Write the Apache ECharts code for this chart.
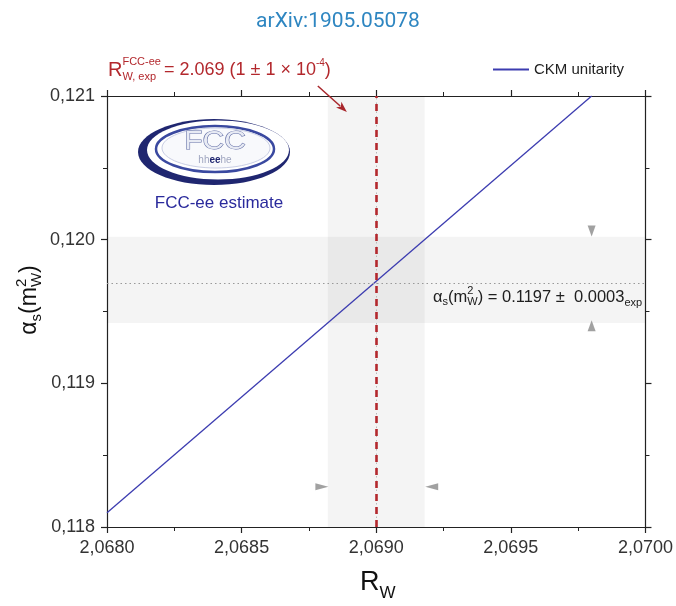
<!DOCTYPE html>
<html><head><meta charset="utf-8">
<script src="https://cdn.jsdelivr.net/npm/echarts@6/dist/echarts.min.js"></script>
<style>html,body{margin:0;padding:0;background:#fff}#c{width:676px;height:606px}</style>
</head><body><div id="c"></div>
<script>
// ---- data ----
const xTickValues = [2.0680, 2.0685, 2.0690, 2.0695, 2.0700];
const yTickValues = [0.118, 0.119, 0.120, 0.121];
const ckmRw = [2.0680, 2.0698];
const ckmAlphaS = [0.11810, 0.12100];
const rwCentral = 2.069;
const rwBand = [2.06882, 2.06918];
const asCentral = 0.1197;
const asBand = [0.11942, 0.12002];
const vTriangles = [[2.0698, 0.12006, 180], [2.0698, 0.11940, 0]];
const hTriangles = [[2.068798, 0.11828, -90], [2.069206, 0.11828, 90]];
const arrowFrom = [2.068783, 0.12107];
const arrowTo = [2.068891, 0.120889];

const FONT = '"Liberation Sans", Arial, sans-serif';
const ctx = document.createElement('canvas').getContext('2d');
function tw(t, s, bold){ ctx.font = (bold?'bold ':'') + s + 'px ' + FONT; return ctx.measureText(t).width; }
function T(x, y, t, s, color){
  return {type:'text', x:x, y:y, silent:true, style:{text:t, fontSize:s, fontFamily:FONT, fill:color, verticalAlign:'middle', align:'left'}};
}
function runs(x, yc, pieces, color){
  const out = []; let cx = x;
  for (const p of pieces){
    if (p.sup !== undefined || p.sub !== undefined){
      let ww = 0;
      if (p.sup){ out.push(T(cx, yc + p.supDy, p.sup, p.s, color)); ww = Math.max(ww, tw(p.sup, p.s)); }
      if (p.sub){ out.push(T(cx, yc + p.subDy, p.sub, p.s, color)); ww = Math.max(ww, tw(p.sub, p.s)); }
      cx += ww + (p.after||0);
    } else {
      out.push(T(cx + (p.pre||0), yc + (p.dy||0), p.t, p.s, color));
      cx += tw(p.t, p.s) + (p.pre||0);
    }
  }
  return {els: out, width: cx - x};
}
function fmtX(v){ return v.toFixed(4).replace('.', ','); }
function fmtY(v){ return v.toFixed(3).replace('.', ','); }

const axisLineStyle = {color:'#222', width:1.2};
function xAx(pos, labels){
  return {type:'value', min:2.068, max:2.070, interval:0.0005, position:pos,
    axisLine:{show:true, onZero:false, lineStyle:axisLineStyle},
    axisTick:{show:true, inside:false, length:6, lineStyle:axisLineStyle},
    minorTick:{show:true, splitNumber:2, length:4, lineStyle:{color:'#222', width:1}},
    splitLine:{show:false}, minorSplitLine:{show:false},
    axisLabel:{show:labels, formatter:fmtX, fontSize:18, color:'#333', fontFamily:FONT, margin:12}};
}
function yAx(pos, labels){
  return {type:'value', min:0.118, max:0.121, interval:0.001, position:pos,
    axisLine:{show:true, onZero:false, lineStyle:axisLineStyle},
    axisTick:{show:true, inside:false, length:6, lineStyle:axisLineStyle},
    minorTick:{show:true, splitNumber:2, length:4, lineStyle:{color:'#222', width:1}},
    splitLine:{show:false}, minorSplitLine:{show:false},
    axisLabel:{show:labels, formatter:fmtY, fontSize:18, color:'#333', fontFamily:FONT, margin:12}};
}

const chart = echarts.init(document.getElementById('c'), null, {renderer:'canvas'});

const graphics = [];
const red = '#b3282d';
const r1 = runs(108, 70, [
  {t:'R', s:20},
  {sup:'FCC-ee', sub:'W, exp', s:11, supDy:-8, subDy:7, after:3},
  {t:'= 2.069 (1 \u00b1 1 \u00d7 10', s:18},
  {sup:'-4', s:10, supDy:-7},
  {t:')', s:18}
], red);
graphics.push(...r1.els);
const r2 = runs(433, 297, [
  {t:'\u03b1', s:16.5},
  {sub:'s', s:11, subDy:5},
  {t:'(m', s:16.5},
  {sup:'2', sub:'W', s:11, supDy:-6, subDy:5},
  {t:') = 0.1197 \u00b1  0.0003', s:16.5},
  {sub:'exp', s:11, subDy:6}
], '#222');
graphics.push(...r2.els);
const r3 = runs(360, 583, [{t:'R', s:27}, {sub:'W', s:17, subDy:10}], '#111');
graphics.push(...r3.els);
const r4 = runs(0, 0, [
  {t:'\u03b1', s:23},
  {sub:'s', s:15, subDy:7},
  {t:'(m', s:23},
  {sup:'2', sub:'W', s:15, supDy:-8, subDy:7},
  {t:')', s:23}
], '#111');
graphics.push({type:'group', x:30, y:300, rotation:Math.PI/2, silent:true,
  children: r4.els.map(e => { e.x -= r4.width/2; return e; })});
// logo
graphics.push({type:'group', silent:true, children:[
  {type:'ellipse', shape:{cx:214, cy:152, rx:76, ry:33}, style:{fill:'#1f2670'}},
  {type:'ellipse', shape:{cx:218, cy:150, rx:71, ry:29.5}, style:{fill:'#ffffff'}},
  {type:'ellipse', shape:{cx:215, cy:149, rx:59, ry:23}, style:{fill:'none', stroke:'#3a49a0', lineWidth:2.5}},
  {type:'ellipse', shape:{cx:216, cy:148, rx:54, ry:20}, style:{fill:'#f8f9fc', stroke:'#c9cee4', lineWidth:1}},
  {type:'text', x:215, y:142, scaleX:1.15, style:{text:'FCC', fontSize:26, fontFamily:FONT, fill:'#e8ebf4', stroke:'#5f6ba4', lineWidth:1, align:'center', verticalAlign:'middle'}},
  {type:'text', x:215, y:160, style:{text:'{g|hh}{b|ee}{g|he}', align:'center', verticalAlign:'middle',
    rich:{g:{fontSize:10, fontFamily:FONT, fill:'#a0a6c0', color:'#a0a6c0'}, b:{fontSize:10, fontWeight:'bold', fontFamily:FONT, fill:'#1f2670', color:'#1f2670'}}}}
]});
graphics.push({type:'text', x:219, y:203, silent:true, style:{text:'FCC-ee estimate', fontSize:17, fontFamily:FONT, fill:'#2a2a9c', align:'center', verticalAlign:'middle'}});

function renderArrow(params, api){
  const p0 = api.coord([api.value(0), api.value(1)]);
  const p1 = api.coord([api.value(2), api.value(3)]);
  const dx = p1[0]-p0[0], dy = p1[1]-p0[1], L = Math.sqrt(dx*dx+dy*dy);
  const ux = dx/L, uy = dy/L, hl = 11, hw = 4;
  const bx = p1[0]-ux*hl, by = p1[1]-uy*hl;
  const c = '#a8262b';
  return {type:'group', children:[
    {type:'line', shape:{x1:p0[0], y1:p0[1], x2:bx+ux*2, y2:by+uy*2}, style:{stroke:c, lineWidth:1.5}},
    {type:'polygon', shape:{points:[[p1[0],p1[1]], [bx - uy*hw, by + ux*hw], [bx + ux*3, by + uy*3], [bx + uy*hw, by - ux*hw]]}, style:{fill:c}}
  ]};
}

const option = {
  animation:false,
  backgroundColor:'#fff',
  title:{text:'arXiv:1905.05078', left:'center', top:6, textStyle:{fontSize:21, fontWeight:'normal', color:'#2e86c1', fontFamily:'Roboto, "Liberation Sans", sans-serif'}},
  legend:{left:488, top:57, itemWidth:36, itemHeight:2, itemGap:10,
    data:[{name:'CKM unitarity', icon:'rect'}],
    textStyle:{fontSize:15, color:'#222', fontFamily:FONT}},
  grid:{left:107, right:30, top:96, bottom:79},
  xAxis:[xAx('bottom', true), xAx('top', false)],
  yAxis:[yAx('left', true), yAx('right', false)],
  series:[
    {name:'bands', type:'line', data:[], silent:true,
      markArea:{silent:true, itemStyle:{color:'rgba(0,0,0,0.045)'}, data:[
        [{xAxis:rwBand[0]}, {xAxis:rwBand[1]}],
        [{yAxis:asBand[0]}, {yAxis:asBand[1]}]
      ]},
      markLine:{silent:true, precision:8, symbol:['none','none'], label:{show:false}, data:[
        {yAxis:asCentral, lineStyle:{color:'#999', type:[1.5,3], width:1}},
        {xAxis:rwCentral, lineStyle:{color:'#b8b8b8', type:[1.5,3], width:1}}
      ]}
    },
    {name:'CKM unitarity', type:'line', showSymbol:false, symbol:'none',
      data: ckmRw.map((x,i) => [x, ckmAlphaS[i]]),
      lineStyle:{color:'#3c3cb0', width:1.3}, itemStyle:{color:'#3c3cb0'}, z:4},
    {name:'central', type:'line', data:[], silent:true, z:5,
      markLine:{silent:true, precision:8, symbol:['none','none'], label:{show:false}, data:[
        {xAxis:rwCentral, lineStyle:{color:'#b3282d', type:[7,6], width:2.6}}
      ]}
    },
    {name:'markersV', type:'scatter', silent:true, clip:false, symbol:'triangle', z:6,
      data: vTriangles.map(d => ({value:[d[0], d[1]], symbolRotate:d[2]})),
      symbolSize:[8,11], itemStyle:{color:'#8a8a8a'}},
    {name:'markersH', type:'scatter', silent:true, clip:false, symbol:'triangle', z:6,
      data: hTriangles.map(d => ({value:[d[0], d[1]], symbolRotate:d[2]})),
      symbolSize:[7,13], itemStyle:{color:'#8a8a8a'}},
    {name:'arrow', type:'custom', silent:true, clip:false, z:7,
      data:[[arrowFrom[0], arrowFrom[1], arrowTo[0], arrowTo[1]]],
      encode:{x:[0,2], y:[1,3]},
      renderItem: renderArrow}
  ],
  graphic: graphics
};
chart.setOption(option);
</script>
</body></html>
